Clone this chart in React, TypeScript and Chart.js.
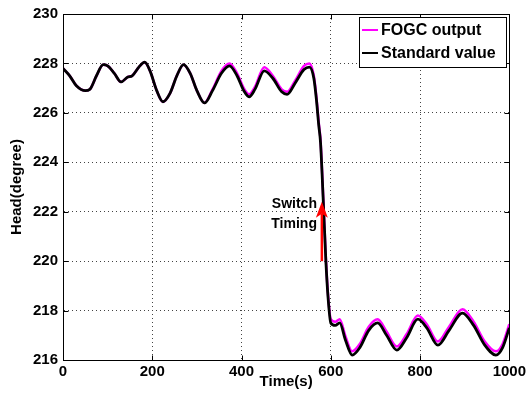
import React, { useEffect, useRef } from 'react';
import { Chart, registerables } from 'chart.js';
Chart.register(...registerables);

const timeS = [0, 15, 30, 50, 60, 75, 90, 100, 115, 130, 145, 155, 170, 183, 195, 210, 224, 240, 255, 270, 285, 300, 317, 335, 355, 373, 390, 405, 417, 430, 451, 470, 490, 502, 520, 540, 552, 562, 568, 573, 577, 583, 589, 594, 600, 610, 620, 633, 648, 665, 685, 705, 725, 748, 770, 795, 815, 840, 865, 895, 920, 945, 970, 985, 1000];

const standardValue = [227.8, 227.5, 227.1, 226.9, 226.95, 227.5, 227.95, 227.9, 227.6, 227.25, 227.45, 227.5, 227.85, 228.05, 227.7, 226.9, 226.45, 226.8, 227.5, 227.95, 227.6, 226.9, 226.4, 226.9, 227.6, 227.9, 227.5, 226.9, 226.65, 226.95, 227.7, 227.4, 226.85, 226.75, 227.2, 227.75, 227.85, 227.4, 226.5, 225.5, 224.8, 222.5, 220.0, 218.5, 217.5, 217.4, 217.5, 216.8, 216.2, 216.5, 217.2, 217.5, 217.0, 216.4, 216.9, 217.65, 217.3, 216.6, 217.2, 217.9, 217.4, 216.6, 216.2, 216.5, 217.3];

const fogcOutput = [227.8, 227.5, 227.1, 226.9, 226.95, 227.5, 227.95, 227.9, 227.6, 227.25, 227.45, 227.5, 227.85, 228.05, 227.7, 226.9, 226.45, 226.8, 227.5, 227.95, 227.6, 226.9, 226.4, 226.95, 227.7, 228.0, 227.6, 227.0, 226.75, 227.05, 227.85, 227.5, 226.95, 226.85, 227.3, 227.9, 228.0, 227.5, 226.6, 225.6, 224.9, 222.6, 220.1, 218.6, 217.65, 217.55, 217.65, 216.95, 216.35, 216.65, 217.35, 217.65, 217.15, 216.55, 217.05, 217.8, 217.45, 216.75, 217.35, 218.05, 217.55, 216.75, 216.35, 216.65, 217.45];

const xTicks = [0, 200, 400, 600, 800, 1000];
const yTicks = [216, 218, 220, 222, 224, 226, 228, 230];
const legendLabels = ['FOGC output', 'Standard value'];
const legendColors = ['#ff00ff', '#000000'];
const switchLabel = ['Switch', 'Timing'];
const switchTime = 580;
const switchFrom = 220.0;
const switchTo = 222.4;
const switchTextTime = 569;
const switchTextValues = [222.3, 221.5];

const FONT = '"Liberation Sans", Arial, Helvetica, sans-serif';

const framePlugin = {
  id: 'framePlugin',
  afterDraw(chart: any) {
    const ctx = chart.ctx;
    const { left, right, top, bottom } = chart.chartArea;
    const xs = chart.scales.x;
    const ys = chart.scales.y;
    ctx.save();
    ctx.strokeStyle = '#000';
    ctx.lineWidth = 1;
    ctx.setLineDash([]);
    const L = Math.round(left) + 0.5, R = Math.round(right) + 0.5, T = Math.round(top) + 0.5, B = Math.round(bottom) + 0.5;
    ctx.strokeRect(L, T, R - L, B - T);
    const tl = 5;
    ctx.beginPath();
    xTicks.forEach((v) => {
      const px = Math.round(xs.getPixelForValue(v)) + 0.5;
      ctx.moveTo(px, B); ctx.lineTo(px, B - tl);
      ctx.moveTo(px, T); ctx.lineTo(px, T + tl);
    });
    yTicks.forEach((v) => {
      const py = Math.round(ys.getPixelForValue(v)) + 0.5;
      ctx.moveTo(L, py); ctx.lineTo(L + tl, py);
      ctx.moveTo(R, py); ctx.lineTo(R - tl, py);
    });
    ctx.stroke();

    const ax = xs.getPixelForValue(switchTime);
    const ay0 = ys.getPixelForValue(switchFrom);
    const ay1 = ys.getPixelForValue(switchTo);
    ctx.strokeStyle = '#ff0000';
    ctx.fillStyle = '#ff0000';
    ctx.lineWidth = 2.5;
    ctx.beginPath();
    ctx.moveTo(ax, ay0);
    ctx.lineTo(ax, ay1 + 12);
    ctx.stroke();
    ctx.beginPath();
    ctx.moveTo(ax, ay1);
    ctx.lineTo(ax - 6, ay1 + 16);
    ctx.lineTo(ax, ay1 + 12);
    ctx.lineTo(ax + 6, ay1 + 16);
    ctx.closePath();
    ctx.fill();

    ctx.fillStyle = '#000';
    ctx.font = 'bold 14px ' + FONT;
    ctx.textAlign = 'right';
    ctx.textBaseline = 'middle';
    const tx = xs.getPixelForValue(switchTextTime);
    switchLabel.forEach((s, i) => {
      ctx.fillText(s, tx, ys.getPixelForValue(switchTextValues[i]));
    });

    const bx = 359.5, by = 17.5, bw = 147, bh = 50;
    ctx.fillStyle = '#fff';
    ctx.fillRect(bx, by, bw, bh);
    ctx.strokeStyle = '#000';
    ctx.lineWidth = 1;
    ctx.strokeRect(bx, by, bw, bh);
    ctx.font = 'bold 16px ' + FONT;
    ctx.textAlign = 'left';
    ctx.textBaseline = 'middle';
    legendLabels.forEach((lab, i) => {
      const y = 30 + i * 23;
      ctx.strokeStyle = legendColors[i];
      ctx.lineWidth = 2;
      ctx.beginPath();
      ctx.moveTo(362, y);
      ctx.lineTo(378, y);
      ctx.stroke();
      ctx.fillStyle = '#000';
      ctx.fillText(lab, 381, y + 1);
    });
    ctx.restore();
  },
};

export default function App() {
  const ref = useRef<HTMLCanvasElement>(null);
  useEffect(() => {
    if (!ref.current) return;
    const chart = new Chart(ref.current, {
      type: 'line',
      data: {
        datasets: [
          {
            label: legendLabels[0],
            data: timeS.map((t, i) => ({ x: t, y: fogcOutput[i] })),
            borderColor: '#ff00ff',
            borderWidth: 2.5,
            pointRadius: 0,
            cubicInterpolationMode: 'monotone',
            order: 2,
          },
          {
            label: legendLabels[1],
            data: timeS.map((t, i) => ({ x: t, y: standardValue[i] })),
            borderColor: '#000000',
            borderWidth: 2.8,
            pointRadius: 0,
            cubicInterpolationMode: 'monotone',
            order: 1,
          },
        ],
      },
      options: {
        animation: false,
        responsive: false,
        layout: { padding: { left: 0, top: 12, right: 18, bottom: 0 } },
        plugins: { legend: { display: false }, tooltip: { enabled: false } },
        scales: {
          x: {
            type: 'linear',
            min: 0,
            max: 1000,
            afterBuildTicks: (s: any) => { s.ticks = xTicks.map((v) => ({ value: v })); },
            afterFit: (s: any) => { s.height = 47; },
            ticks: { color: '#000', font: { family: FONT, size: 15, weight: 'bold' }, padding: 3, maxRotation: 0, callback: (v: any) => String(v) },
            grid: { color: '#444', lineWidth: 1, drawTicks: false },
            border: { display: true, color: '#000', width: 1, dash: [1, 3] },
            title: { display: true, text: 'Time(s)', color: '#000', font: { family: FONT, size: 15, weight: 'bold' }, padding: { top: 0, bottom: 16 } },
          },
          y: {
            type: 'linear',
            min: 216,
            max: 230,
            afterBuildTicks: (s: any) => { s.ticks = yTicks.map((v) => ({ value: v })); },
            afterFit: (s: any) => { s.width = 63; },
            ticks: { color: '#000', font: { family: FONT, size: 15, weight: 'bold' }, padding: 5, callback: (v: any) => String(v) },
            grid: { color: '#444', lineWidth: 1, drawTicks: false },
            border: { display: true, color: '#000', width: 1, dash: [1, 3] },
            title: { display: true, text: 'Head(degree)', color: '#000', font: { family: FONT, size: 15, weight: 'bold' }, padding: { top: 8, bottom: 0 } },
          },
        },
      },
      plugins: [framePlugin],
    } as any);
    return () => chart.destroy();
  }, []);
  return (
    <div style={{ position: 'fixed', left: 0, top: 0, width: 529, height: 407, background: '#fff' }}>
      <canvas ref={ref} width={529} height={407} style={{ width: 529, height: 407 }} />
    </div>
  );
}
